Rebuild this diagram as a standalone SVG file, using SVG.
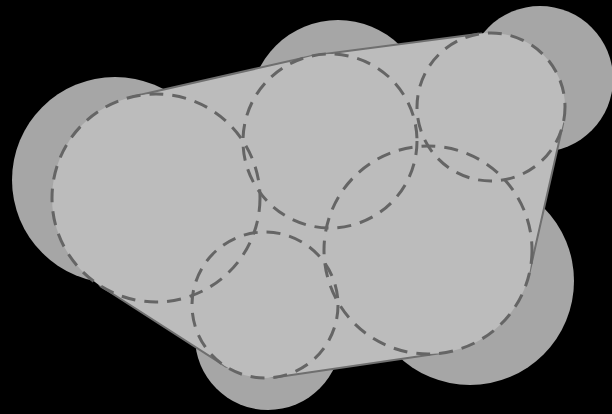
<svg xmlns="http://www.w3.org/2000/svg" width="612" height="414" viewBox="0 0 612 414">
<style>
.solid{fill:#a6a6a6;stroke:none}
.hull{fill:#bcbcbc;stroke:#6f6f6f;stroke-width:2;stroke-linejoin:round}
.disc{fill:#bcbcbc;stroke:none}
.dash{fill:none;stroke:#656565;stroke-width:3;stroke-dasharray:14 9}
</style>
<rect x="0" y="0" width="612" height="414" fill="#000"/>
<g id="outer-circles">
<circle id="solid-a" class="solid" cx="115" cy="180" r="103"/>
<circle id="solid-b" class="solid" cx="338" cy="108" r="88"/>
<circle id="solid-c" class="solid" cx="540" cy="79" r="73"/>
<circle id="solid-d" class="solid" cx="470" cy="281" r="104"/>
<circle id="solid-e" class="solid" cx="268" cy="337" r="73"/>
</g>
<g id="connectors">
<polygon class="hull" points="132.9,96.6 310.7,56.2 318.8,54.7 481.5,33.6 563.2,123.4 529.4,273 441.7,353.1 274.6,377.4 225.5,366.4 99.7,285.5"/>
</g>
<g id="discs">
<circle class="disc" cx="156" cy="198" r="104"/>
<circle class="disc" cx="330" cy="141" r="87"/>
<circle class="disc" cx="491" cy="107" r="74"/>
<circle class="disc" cx="428" cy="250" r="104"/>
<circle class="disc" cx="265" cy="305" r="73"/>
</g>
<g id="node-a"><circle class="dash" cx="156" cy="198" r="104"/></g>
<g id="node-b"><circle class="dash" cx="330" cy="141" r="87"/></g>
<g id="node-c"><circle class="dash" cx="491" cy="107" r="74"/></g>
<g id="node-d"><circle class="dash" cx="428" cy="250" r="104"/></g>
<g id="node-e"><circle class="dash" cx="265" cy="305" r="73"/></g>
</svg>
